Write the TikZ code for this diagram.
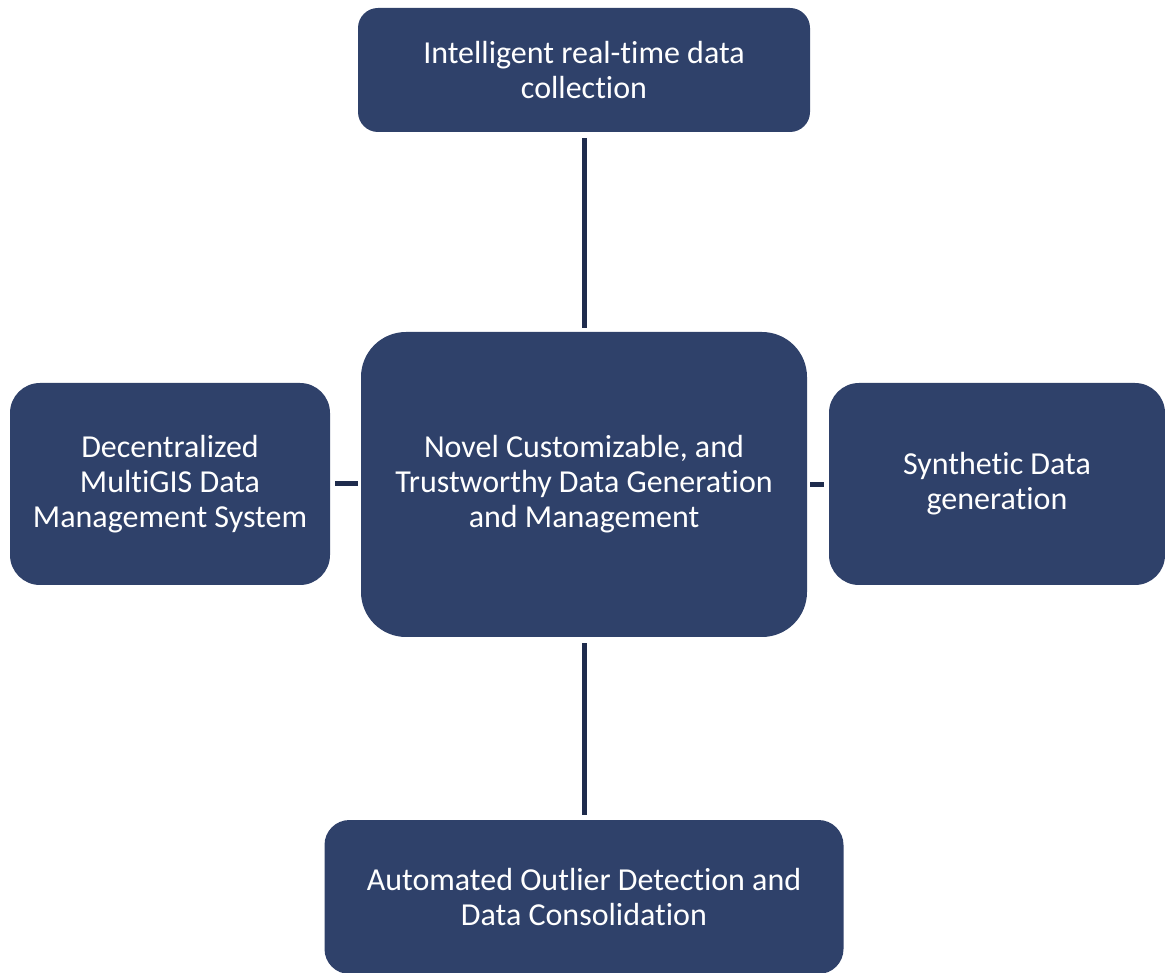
\documentclass[tikz,border=0pt]{standalone}
\usepackage{fontspec}
\setmainfont{Carlito}[Ligatures=NoCommon]
\definecolor{boxblue}{RGB}{47,65,106}
\definecolor{linkblue}{RGB}{31,44,77}
\tikzset{
  topic/.style={fill=boxblue, draw=none, text=white, align=center, inner sep=0pt,
    font=\fontsize{24}{26.3}\selectfont},
  link/.style={draw=linkblue, line width=3.75pt}
}
\begin{document}
\begin{tikzpicture}[x=0.75pt, y=-0.75pt]
  \useasboundingbox (0,0) rectangle (1165,973);

  % hub
  \node[topic, rounded corners=45*0.75pt, minimum width=446*0.75pt, minimum height=305*0.75pt]
    (hub) at (584,484.5) {Novel Customizable, and\\Trustworthy Data Generation\\and Management};

  % surrounding topics
  \node[topic, rounded corners=20*0.75pt, minimum width=452*0.75pt, minimum height=124*0.75pt]
    (collect) at (584,70) {Intelligent real-time data\\collection};
  \node[topic, rounded corners=30*0.75pt, minimum width=320*0.75pt, minimum height=202*0.75pt]
    (gis) at (170,484) {Decentralized\\MultiGIS Data\\Management System};
  \node[topic, rounded corners=30*0.75pt, minimum width=336*0.75pt, minimum height=202*0.75pt]
    (synth) at (997,484) {Synthetic Data\\generation};
  \node[topic, rounded corners=25*0.75pt, minimum width=519*0.75pt, minimum height=154*0.75pt]
    (outlier) at (584,897) {Automated Outlier Detection and\\Data Consolidation};

  % links to the hub
  \draw[link, shorten <=6*0.75pt, shorten >=4*0.75pt] (collect.south) -- (hub.north);
  \draw[link, shorten <=6*0.75pt, shorten >=5*0.75pt] (hub.south) -- (hub.south |- outlier.north);
  \draw[link, shorten <=5*0.75pt, shorten >=3*0.75pt] (gis.east) -- (gis.east -| hub.west);
  \draw[link, shorten <=3*0.75pt, shorten >=5*0.75pt] (hub.east) -- (hub.east -| synth.west);
\end{tikzpicture}
\end{document}
